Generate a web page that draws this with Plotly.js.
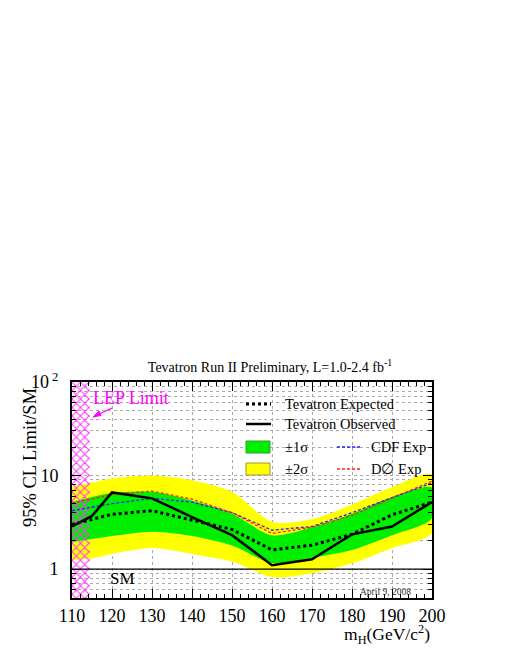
<!DOCTYPE html>
<html>
<head>
<meta charset="utf-8">
<script src="https://cdn.plot.ly/plotly-3.0.1.min.js"></script>
<style>html,body{margin:0;padding:0;background:#fff;}#chart{width:518px;height:670px;}</style>
</head>
<body>
<div id="chart"></div>
<script>
// ---- data ----
const massH = [110, 115, 120, 130, 140, 150, 160, 170, 180, 190, 200];
const observed = [2.85, 3.7, 6.6, 5.7, 3.6, 2.3, 1.1, 1.27, 2.35, 2.85, 5.2];
const expected = [3.0, 3.4, 3.85, 4.2, 3.35, 2.65, 1.6, 1.8, 2.35, 3.8, 5.2];
const cdfExp = [4.2, 4.6, 5.0, 5.7, 5.2, 4.0, 2.6, 2.85, 4.0, 5.8, 8.3];
const d0Exp = [5.1, 5.6, 6.3, 6.8, 5.6, 4.0, 2.4, 2.8, 3.75, 5.7, 8.7];
const sigma1Up = [5.2, 5.9, 6.5, 6.7, 5.4, 3.9, 2.3, 2.8, 3.9, 5.9, 7.4];
const sigma1Dn = [1.95, 2.1, 2.25, 2.5, 2.25, 1.78, 1.16, 1.32, 1.6, 2.3, 3.5];
const sigma2Up = [7.6, 8.4, 9.3, 10.0, 8.9, 6.7, 3.2, 3.4, 4.9, 7.5, 10.3];
const sigma2Dn = [1.25, 1.3, 1.45, 1.68, 1.45, 1.2, 0.82, 0.9, 1.15, 1.68, 2.45];
const lepLimit = 114.4;
const smLevel = 1;
const xRange = [110, 200];
const yRange = [0.49, 100];
const yMajorTicks = [1, 10, 100];
const yMajorText = ['1', '10', '10<sup> 2</sup>'];
const yMinorTicks = [0.5,0.6,0.7,0.8,0.9,2,3,4,5,6,7,8,9,20,30,40,50,60,70,80,90];

const serif = 'Liberation Serif, DejaVu Serif, serif';

function band(up, dn) {
  return {
    x: massH.concat(massH.slice().reverse()),
    y: up.concat(dn.slice().reverse())
  };
}
const b2 = band(sigma2Up, sigma2Dn);
const b1 = band(sigma1Up, sigma1Dn);

const traces = [
  {x: b2.x, y: b2.y, type: 'scatter', mode: 'lines', fill: 'toself', fillcolor: '#ffff00',
   line: {width: 0, shape: 'spline', smoothing: 0.8}, hoverinfo: 'skip', showlegend: false},
  {x: b1.x, y: b1.y, type: 'scatter', mode: 'lines', fill: 'toself', fillcolor: '#00ee00',
   line: {width: 0, shape: 'spline', smoothing: 0.8}, hoverinfo: 'skip', showlegend: false},
  {x: [xRange[0], lepLimit, lepLimit, xRange[0], xRange[0]],
   y: [yRange[0], yRange[0], yRange[1], yRange[1], yRange[0]],
   type: 'scatter', mode: 'lines', fill: 'toself', fillcolor: 'rgba(0,0,0,0)',
   fillpattern: {shape: 'x', fgcolor: '#ff33ff', bgcolor: 'rgba(0,0,0,0)', size: 6, solidity: 0.3},
   line: {width: 0, color: 'rgba(0,0,0,0)'}, hoverinfo: 'skip', showlegend: false},
  {x: massH, y: cdfExp, type: 'scatter', mode: 'lines', name: 'CDF Exp',
   line: {color: '#2222ff', width: 1.3, dash: '3px,2px'}, showlegend: false},
  {x: massH, y: d0Exp, type: 'scatter', mode: 'lines', name: 'D\u2205 Exp',
   line: {color: '#ff2222', width: 1.3, dash: '3px,2px'}, showlegend: false},
  {x: massH, y: expected, type: 'scatter', mode: 'lines', name: 'Tevatron Expected',
   line: {color: '#000', width: 3, dash: 'dot'}, showlegend: false},
  {x: massH, y: observed, type: 'scatter', mode: 'lines', name: 'Tevatron Observed',
   line: {color: '#000', width: 2.5}, showlegend: false}
];

const px = v => (v - 72) / 360;
const py = v => (598 - v) / 216;

const shapes = [
  {type: 'line', xref: 'paper', x0: 0, x1: 1, yref: 'y', y0: smLevel, y1: smLevel,
   line: {color: '#000', width: 1.3}},
  // legend samples
  {type: 'line', xref: 'paper', yref: 'paper', x0: px(246), x1: px(271), y0: py(404), y1: py(404),
   line: {color: '#000', width: 3, dash: 'dot'}},
  {type: 'line', xref: 'paper', yref: 'paper', x0: px(246), x1: px(271), y0: py(424), y1: py(424),
   line: {color: '#000', width: 2.5}},
  {type: 'rect', xref: 'paper', yref: 'paper', x0: px(246), x1: px(270), y0: py(453), y1: py(441),
   fillcolor: '#00ee00', line: {color: '#339933', width: 1}},
  {type: 'rect', xref: 'paper', yref: 'paper', x0: px(246), x1: px(270), y0: py(475), y1: py(463),
   fillcolor: '#ffff00', line: {color: '#999933', width: 1}},
  {type: 'line', xref: 'paper', yref: 'paper', x0: px(337), x1: px(360), y0: py(447), y1: py(447),
   line: {color: '#2222ff', width: 1.3, dash: '3px,2px'}},
  {type: 'line', xref: 'paper', yref: 'paper', x0: px(337), x1: px(360), y0: py(469), y1: py(469),
   line: {color: '#ff2222', width: 1.3, dash: '3px,2px'}},
  // LEP arrow
  {type: 'line', xref: 'paper', yref: 'paper', x0: px(112), x1: px(94), y0: py(408), y1: py(416.5),
   line: {color: '#ff00ff', width: 1.3}},
  {type: 'path', xref: 'paper', yref: 'paper',
   path: 'M ' + px(93) + ' ' + py(417) + ' L ' + px(99) + ' ' + py(411) + ' L ' + px(101) + ' ' + py(415.5) + ' Z',
   fillcolor: '#ff00ff', line: {color: '#ff00ff', width: 1}}
];

const lf = {family: serif, size: 14.5, color: '#000'};
const annotations = [
  {xref: 'paper', yref: 'paper', x: px(283), y: py(404), text: 'Tevatron Expected', showarrow: false, xanchor: 'left', yanchor: 'middle', font: lf},
  {xref: 'paper', yref: 'paper', x: px(283), y: py(424), text: 'Tevatron Observed', showarrow: false, xanchor: 'left', yanchor: 'middle', font: lf},
  {xref: 'paper', yref: 'paper', x: px(283), y: py(447), text: '\u00b11\u03c3', showarrow: false, xanchor: 'left', yanchor: 'middle', font: lf},
  {xref: 'paper', yref: 'paper', x: px(283), y: py(469), text: '\u00b12\u03c3', showarrow: false, xanchor: 'left', yanchor: 'middle', font: lf},
  {xref: 'paper', yref: 'paper', x: px(428), y: py(447), text: 'CDF Exp', showarrow: false, xanchor: 'right', yanchor: 'middle', font: lf},
  {xref: 'paper', yref: 'paper', x: px(423), y: py(469), text: 'D\u2205 Exp', showarrow: false, xanchor: 'right', yanchor: 'middle', font: lf},
  {xref: 'paper', yref: 'paper', x: px(131), y: py(398), text: 'LEP Limit', showarrow: false, xanchor: 'center', yanchor: 'middle',
   font: {family: serif, size: 18, color: '#ff00ff'}},
  {xref: 'paper', yref: 'paper', x: px(122), y: py(578), text: 'SM', showarrow: false, xanchor: 'center', yanchor: 'middle',
   font: {family: serif, size: 17, color: '#000'}},
  {xref: 'paper', yref: 'paper', x: px(385), y: py(592), text: 'April 9, 2008', showarrow: false, xanchor: 'center', yanchor: 'middle',
   font: {family: serif, size: 9.5, color: '#333'}},
  {xref: 'paper', yref: 'paper', x: px(30), y: py(458), text: '95% CL Limit/SM', showarrow: false, textangle: -90,
   xanchor: 'center', yanchor: 'middle', font: {family: serif, size: 18.5, color: '#000'}},
  {xref: 'paper', yref: 'paper', x: 1, y: py(634), text: 'm<sub>H</sub>(GeV/c<sup>2</sup>)', showarrow: false,
   xanchor: 'right', yanchor: 'middle', font: {family: serif, size: 17.5, color: '#000'}}
];

const layout = {
  width: 518, height: 670,
  margin: {l: 72, r: 86, t: 382, b: 72},
  paper_bgcolor: '#fff', plot_bgcolor: '#fff',
  showlegend: false,
  title: {text: 'Tevatron Run II Preliminary, L=1.0-2.4 fb<sup>-1</sup>', xref: 'paper', x: px(270), xanchor: 'center',
          yref: 'container', y: 1 - 367 / 670, yanchor: 'middle', font: {family: serif, size: 14, color: '#000'}},
  xaxis: {
    range: xRange, dtick: 10, tick0: 110, ticks: 'inside', ticklen: 9, tickwidth: 1, tickcolor: '#000',
    showline: true, linecolor: '#000', linewidth: 2, mirror: 'ticks',
    showgrid: true, gridcolor: '#aaaaaa', griddash: 'dot', gridwidth: 1, zeroline: false,
    tickfont: {family: serif, size: 18, color: '#000'},
    minor: {dtick: 2, ticks: 'inside', ticklen: 4, tickcolor: '#000', showgrid: false}
  },
  yaxis: {
    type: 'log', range: [Math.log10(yRange[0]), Math.log10(yRange[1])],
    tickmode: 'array', tickvals: yMajorTicks, ticktext: yMajorText,
    ticks: 'inside', ticklen: 9, tickwidth: 1, tickcolor: '#000',
    showline: true, linecolor: '#000', linewidth: 2, mirror: 'ticks',
    showgrid: true, gridcolor: '#aaaaaa', griddash: 'dot', gridwidth: 1, zeroline: false,
    ticklabelstandoff: 8,
    tickfont: {family: serif, size: 18, color: '#000'},
    minor: {tickmode: 'array', tickvals: yMinorTicks, ticks: 'inside', ticklen: 4, tickcolor: '#000',
            showgrid: true, gridcolor: '#aaaaaa', griddash: 'dot', gridwidth: 1}
  },
  shapes: shapes,
  annotations: annotations
};

Plotly.newPlot('chart', traces, layout, {staticPlot: true, displayModeBar: false});
</script>
</body>
</html>
